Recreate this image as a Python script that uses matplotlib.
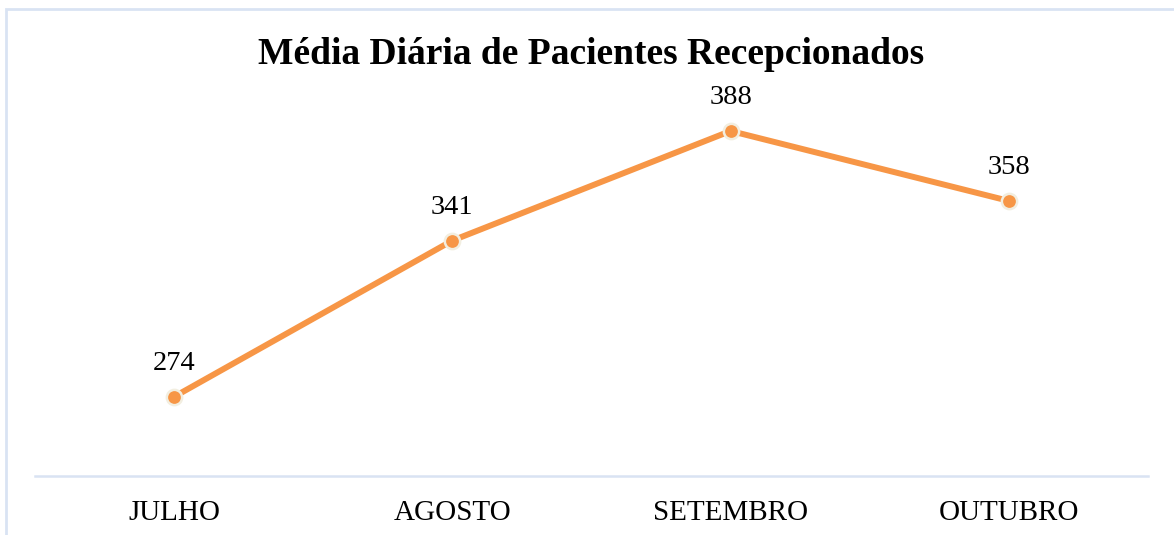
import matplotlib.pyplot as plt
from matplotlib.patches import Rectangle

# Chart data
meses = ["JULHO", "AGOSTO", "SETEMBRO", "OUTUBRO"]
pacientes = [274, 341, 388, 358]

plt.rcParams['font.family'] = ['Liberation Serif', 'DejaVu Serif']

W, H = 1174, 535
fig = plt.figure(figsize=(W / 100, H / 100), dpi=100)

# Light border around the chart area
fig.patches.append(Rectangle((6 / W, -0.1), 1.2, 1 - 9 / H + 0.1, transform=fig.transFigure,
                             fill=False, edgecolor="#D9E3F3", linewidth=2))

ax = fig.add_axes([35 / W, (H - 476) / H, 1113 / W, 373 / H])
x = range(len(meses))
ax.plot(x, pacientes, color="#F79646", linewidth=4.3, marker="o", markersize=11,
        markerfacecolor="#F79646", markeredgecolor="#F2EEE0", markeredgewidth=1.8,
        solid_capstyle="round", zorder=3)

for xi, v in zip(x, pacientes):
    ax.annotate(str(v), (xi, v), xytext=(0, 24), textcoords="offset points",
                ha="center", va="center", fontsize=20.5, color="#000000")

ax.set_xlim(-0.5, 3.5)
ax.set_ylim(240, 400)
ax.set_xticks(list(x))
ax.set_xticklabels(meses, fontsize=21)
ax.tick_params(axis="x", length=0, pad=17)
ax.set_yticks([])
for s in ["top", "right", "left"]:
    ax.spines[s].set_visible(False)
ax.spines["bottom"].set_color("#D9E3F3")
ax.spines["bottom"].set_linewidth(1.8)

fig.text(591 / W, 1 - 54 / H, "Média Diária de Pacientes Recepcionados", ha="center", va="center",
         fontsize=27, fontweight="bold")

fig.savefig("out.png", dpi=100)
